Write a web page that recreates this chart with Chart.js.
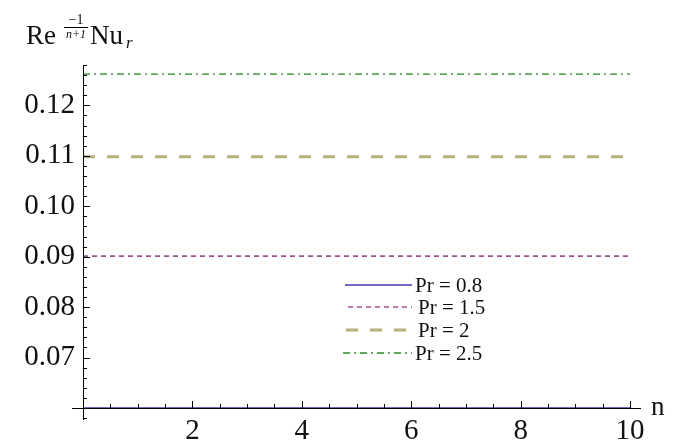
<!DOCTYPE html>
<html>
<head>
<meta charset="utf-8">
<script src="https://cdn.jsdelivr.net/npm/chart.js@4.4.0/dist/chart.umd.min.js"></script>
<style>
html,body{margin:0;padding:0;background:#fff;}
#wrap{width:683px;height:441px;}
</style>
</head>
<body>
<div id="wrap"><canvas id="c" width="683" height="441"></canvas></div>
<script>
const nValues = [0, 2, 4, 6, 8, 10];
const seriesLabels = ['Pr = 0.8', 'Pr = 1.5', 'Pr = 2', 'Pr = 2.5'];
const pr08 = [0.0600, 0.0600, 0.0600, 0.0600, 0.0600, 0.0600];
const pr15 = [0.0901, 0.0901, 0.0901, 0.0901, 0.0901, 0.0901];
const pr20 = [0.1098, 0.1098, 0.1098, 0.1098, 0.1098, 0.1098];
const pr25 = [0.1262, 0.1262, 0.1262, 0.1262, 0.1262, 0.1262];
const xTickValues = [2, 4, 6, 8, 10];
const yTickValues = [0.07, 0.08, 0.09, 0.10, 0.11, 0.12];
const yTickLabels = ['0.07', '0.08', '0.09', '0.10', '0.11', '0.12'];

const SERIF = '"Liberation Serif", "DejaVu Serif", serif';
const styles = [
  {color: '#7668c2', width: 2, dash: []},
  {color: '#a2508f', width: 1.6, dash: [5, 4]},
  {color: '#b5b07c', width: 3, dash: [12, 12]},
  {color: '#62a85c', width: 1.8, dash: [7, 4, 2, 4]}
];
const allSeries = [pr08, pr15, pr20, pr25];

const datasets = allSeries.map((vals, i) => ({
  label: seriesLabels[i],
  data: nValues.map((n, j) => ({x: n, y: vals[j]})),
  borderColor: styles[i].color,
  borderWidth: styles[i].width,
  borderDash: styles[i].dash,
  pointRadius: 0,
  fill: false,
  tension: 0,
  clip: false
}));

const axesPlugin = {
  id: 'axesPlugin',
  afterDatasetsDraw(chart) {
    const ctx = chart.ctx;
    const xs = chart.scales.x, ys = chart.scales.y;
    const x0 = xs.getPixelForValue(0);
    const y0 = ys.getPixelForValue(0.06);
    ctx.save();
    ctx.strokeStyle = '#000';
    ctx.lineWidth = 1;
    // x axis
    ctx.beginPath();
    ctx.moveTo(xs.getPixelForValue(-0.2), y0 + 0.5);
    ctx.lineTo(xs.getPixelForValue(10.2), y0 + 0.5);
    ctx.stroke();
    // y axis
    ctx.beginPath();
    ctx.moveTo(x0 + 0.5, ys.getPixelForValue(0.0576));
    ctx.lineTo(x0 + 0.5, ys.getPixelForValue(0.128));
    ctx.stroke();
    // x ticks
    for (let k = 1; k <= 20; k++) {
      const v = k * 0.5;
      const px = Math.round(xs.getPixelForValue(v)) + 0.5;
      const len = (k % 4 === 0) ? 7 : 4;
      ctx.beginPath();
      ctx.moveTo(px, y0);
      ctx.lineTo(px, y0 - len);
      ctx.stroke();
    }
    // y ticks
    for (let k = 29; k <= 64; k++) {
      if (k === 30) continue;
      const v = k * 0.002;
      const py = Math.round(ys.getPixelForValue(v)) + 0.5;
      const len = (k % 5 === 0) ? 7 : 4;
      ctx.beginPath();
      ctx.moveTo(x0, py);
      ctx.lineTo(x0 + len, py);
      ctx.stroke();
    }
    // axis labels
    ctx.fillStyle = '#111';
    ctx.textBaseline = 'alphabetic';
    ctx.textAlign = 'left';
    ctx.font = '27px ' + SERIF;
    ctx.fillText('n', 651, 415);
    // y label: Re^{-1/(n+1)} Nu_r
    ctx.font = '27px ' + SERIF;
    ctx.fillText('Re', 26, 44);
    ctx.font = '14px ' + SERIF;
    ctx.textAlign = 'center';
    ctx.fillText('\u22121', 76, 24);
    ctx.beginPath();
    ctx.moveTo(64, 27.5);
    ctx.lineTo(88, 27.5);
    ctx.stroke();
    ctx.font = 'italic 12px ' + SERIF;
    ctx.fillText('n+1', 76, 38);
    ctx.textAlign = 'left';
    ctx.font = '27px ' + SERIF;
    ctx.fillText('Nu', 90, 44);
    ctx.font = 'italic 17px ' + SERIF;
    ctx.fillText('r', 126, 48);
    // legend
    const rows = [
      {y: 285, x1: 345, x2: 412, tx: 415},
      {y: 307, x1: 348, x2: 412, tx: 418},
      {y: 330, x1: 346, x2: 408, tx: 418},
      {y: 353, x1: 343, x2: 412, tx: 415}
    ];
    chart.data.datasets.forEach((ds, i) => {
      const r = rows[i];
      ctx.save();
      ctx.strokeStyle = ds.borderColor;
      ctx.lineWidth = ds.borderWidth;
      ctx.setLineDash(ds.borderDash);
      ctx.beginPath();
      ctx.moveTo(r.x1, r.y);
      ctx.lineTo(r.x2, r.y);
      ctx.stroke();
      ctx.restore();
      ctx.fillStyle = '#111';
      ctx.font = '21px ' + SERIF;
      ctx.textAlign = 'left';
      ctx.fillText(ds.label, r.tx, r.y + 7);
    });
    ctx.restore();
  }
};

new Chart(document.getElementById('c'), {
  type: 'line',
  data: {datasets},
  options: {
    responsive: false,
    animation: false,
    events: [],
    layout: {padding: {left: 0, top: 65, right: 42, bottom: 0}},
    plugins: {legend: {display: false}, tooltip: {enabled: false}, title: {display: false}},
    scales: {
      x: {
        type: 'linear',
        min: 0,
        max: 10.2,
        grid: {display: false, drawTicks: false},
        border: {display: false},
        afterFit(s) { s.height = 33; },
        afterBuildTicks(s) { s.ticks = xTickValues.map(v => ({value: v})); },
        ticks: {
          color: '#111',
          font: {family: SERIF, size: 29},
          padding: 6,
          maxRotation: 0,
          autoSkip: false,
          callback: (v) => String(v)
        }
      },
      y: {
        type: 'linear',
        min: 0.06,
        max: 0.128,
        grid: {display: false, drawTicks: false},
        border: {display: false},
        afterFit(s) { s.width = 83; },
        afterBuildTicks(s) { s.ticks = yTickValues.map(v => ({value: v})); },
        ticks: {
          color: '#111',
          font: {family: SERIF, size: 29},
          padding: 8,
          autoSkip: false,
          callback: (v) => {
            const i = yTickValues.findIndex(t => Math.abs(t - v) < 1e-9);
            return i >= 0 ? yTickLabels[i] : '';
          }
        }
      }
    }
  },
  plugins: [axesPlugin]
});
</script>
</body>
</html>
